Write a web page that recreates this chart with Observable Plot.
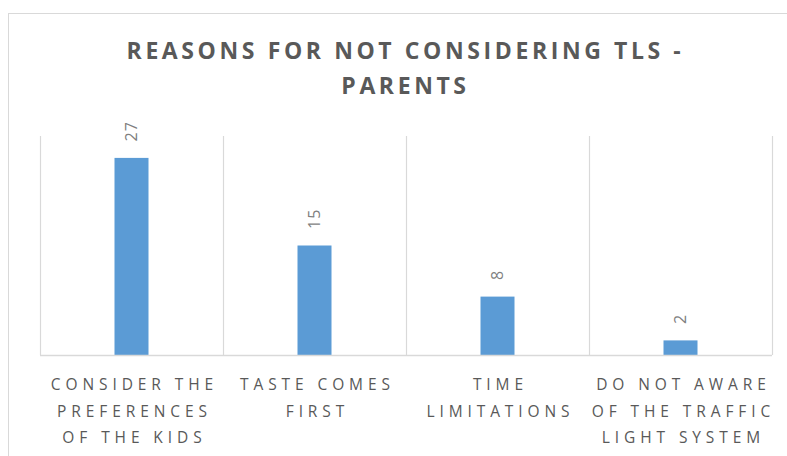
<!DOCTYPE html>
<html>
<head>
<meta charset="utf-8">
<script src="https://cdn.jsdelivr.net/npm/d3@7"></script>
<script src="https://cdn.jsdelivr.net/npm/@observablehq/plot@0.6"></script>
<style>
  html, body { margin: 0; padding: 0; background: #fff; overflow: hidden; }
  #wrap { position: relative; width: 787px; height: 456px; font-family: "Open Sans", sans-serif; }
  #border { position: absolute; left: 8px; top: 13px; width: 1000px; height: 1000px;
            border-left: 1.5px solid #d9d9d9; border-top: 1.5px solid #d9d9d9; box-sizing: border-box; }
  #title { position: relative; box-sizing: border-box; width: 787px; height: 110px; padding-top: 33px;
           padding-left: 24px; text-align: center; font-weight: bold; font-size: 23px; line-height: 35px;
           letter-spacing: 3.6px; color: #595959; }
  #chart { position: relative; }
  #chart g[aria-label="x-axis tick label"] { letter-spacing: 4.9px; }
  #chart g[aria-label="text"] { letter-spacing: 1px; }
</style>
</head>
<body>
<div id="wrap">
  <div id="border"></div>
  <div id="title">REASONS FOR NOT CONSIDERING TLS -<br>PARENTS</div>
  <div id="chart"></div>
</div>
<script>
const categories = [
  "Consider the preferences of the kids",
  "Taste comes first",
  "Time limitations",
  "Do not aware of the traffic light system"
];
const values = [27, 15, 8, 2];
const tickLabels = [
  "CONSIDER THE\nPREFERENCES\nOF THE KIDS",
  "TASTE COMES\nFIRST",
  "TIME\nLIMITATIONS",
  "DO NOT AWARE\nOF THE TRAFFIC\nLIGHT SYSTEM"
];
const yDomain = [0, 30];

const data = categories.map((c, i) => ({category: c, value: values[i], label: tickLabels[i]}));
const labelOf = new Map(categories.map((c, i) => [c, tickLabels[i]]));

const W = 787, ML = 40, MR = 15;
const bw = (W - ML - MR) / categories.length;
const barW = 34;
const inset = (bw - barW) / 2;
const gridColor = "#d9d9d9";

const plot = Plot.plot({
  width: W,
  height: 346,
  marginTop: 26,
  marginBottom: 101,
  marginLeft: ML,
  marginRight: MR,
  style: {fontFamily: "Open Sans, sans-serif", background: "transparent", overflow: "visible"},
  x: {domain: categories, padding: 0, axis: null},
  y: {domain: yDomain, axis: null},
  marks: [
    Plot.ruleX(categories, {x: d => d, y1: yDomain[0], y2: yDomain[1], dx: -bw / 2, stroke: gridColor, strokeWidth: 1.2}),
    Plot.ruleX(categories.slice(-1), {x: d => d, y1: yDomain[0], y2: yDomain[1], dx: bw / 2, stroke: gridColor, strokeWidth: 1.2}),
    Plot.barY(data, {x: "category", y: "value", fill: "#5b9bd5", insetLeft: inset, insetRight: inset}),
    Plot.ruleY([0], {stroke: gridColor, strokeWidth: 1.6}),
    Plot.text(data, {x: "category", y: "value", text: d => String(d.value), rotate: -90, textAnchor: "start",
                     dy: -17, fill: "#7f7f7f", fontSize: 16}),
    Plot.axisX({tickSize: 0, tickPadding: 16, tickFormat: d => labelOf.get(d), fontSize: 15.5,
                lineHeight: 1.7, fill: "#595959", dx: 2.45, label: null})
  ]
});
document.getElementById("chart").appendChild(plot);
</script>
</body>
</html>
